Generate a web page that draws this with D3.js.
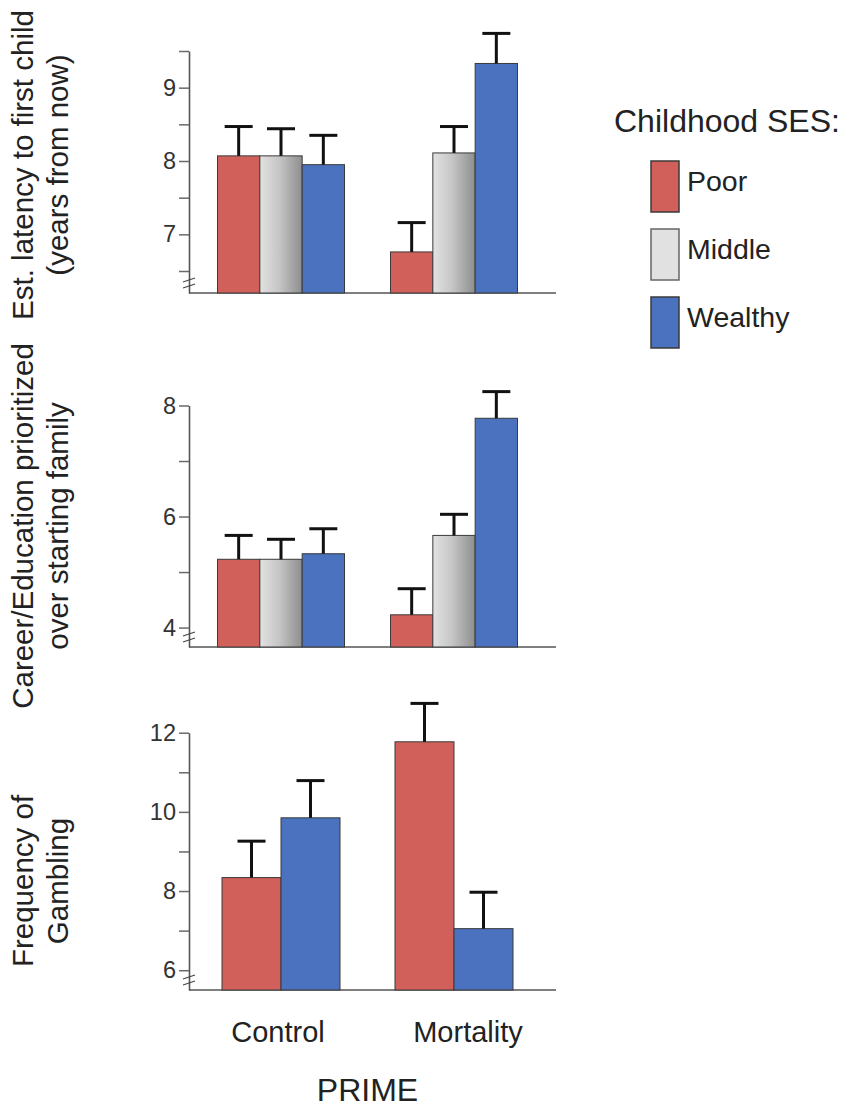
<!DOCTYPE html>
<html><head><meta charset="utf-8">
<script src="https://cdn.jsdelivr.net/npm/d3@7"></script>
<style>
html,body{margin:0;padding:0;background:#fff;}
svg{display:block;font-family:"Liberation Sans",Arial,Helvetica,sans-serif;}
</style></head><body>
<svg id="chart" width="842" height="1107"></svg>
<script>
// ---- data ----
const prime = ["Control", "Mortality"];
const ses = ["Poor", "Middle", "Wealthy"];
const gamblingSes = ["Poor", "Wealthy"];

const latencyControl = [8.07, 8.07, 7.95];
const latencyMortality = [6.76, 8.11, 9.33];
const latencyControlSE = [0.40, 0.37, 0.40];
const latencyMortalitySE = [0.40, 0.36, 0.41];
const latencyTicks = [7, 8, 9];
const latencyMinorTicks = [6.5, 7.5, 8.5, 9.5];

const careerControl = [5.23, 5.23, 5.33];
const careerMortality = [4.23, 5.66, 7.77];
const careerControlSE = [0.43, 0.36, 0.45];
const careerMortalitySE = [0.47, 0.38, 0.48];
const careerTicks = [4, 6, 8];
const careerMinorTicks = [5, 7];

const gamblingControl = [8.34, 9.85];
const gamblingMortality = [11.77, 7.05];
const gamblingControlSE = [0.92, 0.94];
const gamblingMortalitySE = [0.97, 0.92];
const gamblingTicks = [6, 8, 10, 12];
const gamblingMinorTicks = [7, 9, 11];

const legendTitle = "Childhood SES:";
const xTitle = "PRIME";

// ---- layout ----
const svg = d3.select("#chart");
const axisX = 189, axisRight = 556;
const colors = {Poor: "#d1605a", Middle: "url(#midGrad)", Wealthy: "#4a72be"};
const legendColors = {Poor: "#d1605a", Middle: "#e1e1e1", Wealthy: "#4a72be"};
const font = '"Liberation Sans", Arial, Helvetica, sans-serif';

const defs = svg.append("defs");
const grad = defs.append("linearGradient").attr("id", "midGrad")
  .attr("x1", "0").attr("x2", "1").attr("y1", "0").attr("y2", "0");
grad.append("stop").attr("offset", "0").attr("stop-color", "#e2e2e2");
grad.append("stop").attr("offset", "0.45").attr("stop-color", "#c6c6c6");
grad.append("stop").attr("offset", "1").attr("stop-color", "#8e8e8e");

const xg = d3.scalePoint().domain(prime).range([axisX + 92, axisX + 265]);
const xLabel = d3.scalePoint().domain(prime).range([axisX + 89, axisX + 279]);

const panels = [
  {keys: ses, control: latencyControl, mortality: latencyMortality,
   cSE: latencyControlSE, mSE: latencyMortalitySE,
   ticks: latencyTicks, minor: latencyMinorTicks,
   domain: [6.2, 9.5], range: [293, 51], gw: 127, cy: 165,
   label: ["Est. latency to first child", "(years from now)"]},
  {keys: ses, control: careerControl, mortality: careerMortality,
   cSE: careerControlSE, mSE: careerMortalitySE,
   ticks: careerTicks, minor: careerMinorTicks,
   domain: [3.65, 8], range: [647, 405.5], gw: 127, cy: 526,
   label: ["Career/Education prioritized", "over starting family"]},
  {keys: gamblingSes, control: gamblingControl, mortality: gamblingMortality,
   cSE: gamblingControlSE, mSE: gamblingMortalitySE,
   ticks: gamblingTicks, minor: gamblingMinorTicks,
   domain: [5.5, 12], range: [990, 732.7], gw: 118, cy: 881,
   label: ["Frequency of", "Gambling"]}
];

panels.forEach(p => {
  const y = d3.scaleLinear().domain(p.domain).range(p.range);
  const xs = d3.scaleBand().domain(p.keys).range([-p.gw / 2, p.gw / 2]).padding(0);
  const base = y(p.domain[0]);
  const g = svg.append("g");

  // minor ticks
  const minorAxis = d3.axisLeft(y).tickValues(p.minor).tickSize(10).tickFormat("").tickSizeOuter(0);
  const gm = g.append("g").attr("transform", `translate(${axisX},0)`).call(minorAxis);
  gm.select(".domain").remove();
  gm.selectAll(".tick line").attr("stroke", "#6a6a6a").attr("stroke-width", 1.5);

  // major axis
  const axis = d3.axisLeft(y).tickValues(p.ticks).tickSize(10).tickPadding(3).tickSizeOuter(0).tickFormat(d3.format("d"));
  const ga = g.append("g").attr("transform", `translate(${axisX},0)`).call(axis);
  ga.select(".domain").attr("stroke", "#555").attr("stroke-width", 1.6);
  ga.selectAll(".tick line").attr("stroke", "#6a6a6a").attr("stroke-width", 1.5);
  ga.selectAll(".tick text").attr("font-family", font).attr("font-size", 23.5).attr("fill", "#333");

  // baseline
  g.append("line").attr("x1", axisX).attr("x2", axisRight).attr("y1", base).attr("y2", base)
    .attr("stroke", "#555").attr("stroke-width", 1.6);

  // axis break marks
  [-3, 3].forEach(o => {
    g.append("line")
      .attr("x1", axisX - 6).attr("y1", base - 10 + o + 2)
      .attr("x2", axisX + 6).attr("y2", base - 10 + o - 2)
      .attr("stroke", "#444").attr("stroke-width", 1.3);
  });

  // bars
  const rows = [];
  prime.forEach((pr, i) => {
    const vals = i === 0 ? p.control : p.mortality;
    const ses_ = i === 0 ? p.cSE : p.mSE;
    p.keys.forEach((k, j) => rows.push({prime: pr, key: k, v: vals[j], se: ses_[j]}));
  });

  g.selectAll("rect.bar").data(rows).enter().append("rect")
    .attr("class", "bar")
    .attr("x", d => xg(d.prime) + xs(d.key))
    .attr("width", xs.bandwidth())
    .attr("y", d => y(d.v))
    .attr("height", d => base - y(d.v))
    .attr("fill", d => colors[d.key])
    .attr("stroke", "#3a3a3a").attr("stroke-width", 1);

  // error bars
  const cap = 28;
  const eb = g.selectAll("g.err").data(rows).enter().append("g").attr("class", "err");
  eb.append("line")
    .attr("x1", d => xg(d.prime) + xs(d.key) + xs.bandwidth() / 2)
    .attr("x2", d => xg(d.prime) + xs(d.key) + xs.bandwidth() / 2)
    .attr("y1", d => y(d.v)).attr("y2", d => y(d.v + d.se))
    .attr("stroke", "#111").attr("stroke-width", 3);
  eb.append("line")
    .attr("x1", d => xg(d.prime) + xs(d.key) + xs.bandwidth() / 2 - cap / 2)
    .attr("x2", d => xg(d.prime) + xs(d.key) + xs.bandwidth() / 2 + cap / 2)
    .attr("y1", d => y(d.v + d.se)).attr("y2", d => y(d.v + d.se))
    .attr("stroke", "#111").attr("stroke-width", 3);

  // y label
  const lg = g.append("g").attr("transform", `translate(0,${p.cy}) rotate(-90)`);
  p.label.forEach((t, li) => {
    lg.append("text").attr("x", 0).attr("y", 33 + li * 35)
      .attr("text-anchor", "middle").attr("font-family", font).attr("font-size", 29.5)
      .attr("fill", "#222").text(t);
  });
});

// x category labels
svg.selectAll("text.cat").data(prime).enter().append("text")
  .attr("class", "cat")
  .attr("x", d => xLabel(d)).attr("y", 1042)
  .attr("text-anchor", "middle").attr("font-family", font).attr("font-size", 29)
  .attr("fill", "#222").text(d => d);

svg.append("text")
  .attr("x", (xg(prime[0]) + xg(prime[1])) / 2).attr("y", 1101)
  .attr("text-anchor", "middle").attr("font-family", font).attr("font-size", 32)
  .attr("fill", "#222").text(xTitle);

// legend
const leg = svg.append("g");
leg.append("text").attr("x", 614).attr("y", 132)
  .attr("font-family", font).attr("font-size", 32).attr("fill", "#222").text(legendTitle);
const li = leg.selectAll("g.li").data(ses).enter().append("g").attr("class", "li")
  .attr("transform", (d, i) => `translate(651,${161 + i * 68})`);
li.append("rect").attr("width", 28).attr("height", 51)
  .attr("fill", d => legendColors[d])
  .attr("stroke", d => d === "Middle" ? "#666" : "#3a3a3a").attr("stroke-width", 1.5);
li.append("text").attr("x", 36).attr("y", 30)
  .attr("font-family", font).attr("font-size", 28.5).attr("fill", "#222").text(d => d);
</script>
</body></html>
